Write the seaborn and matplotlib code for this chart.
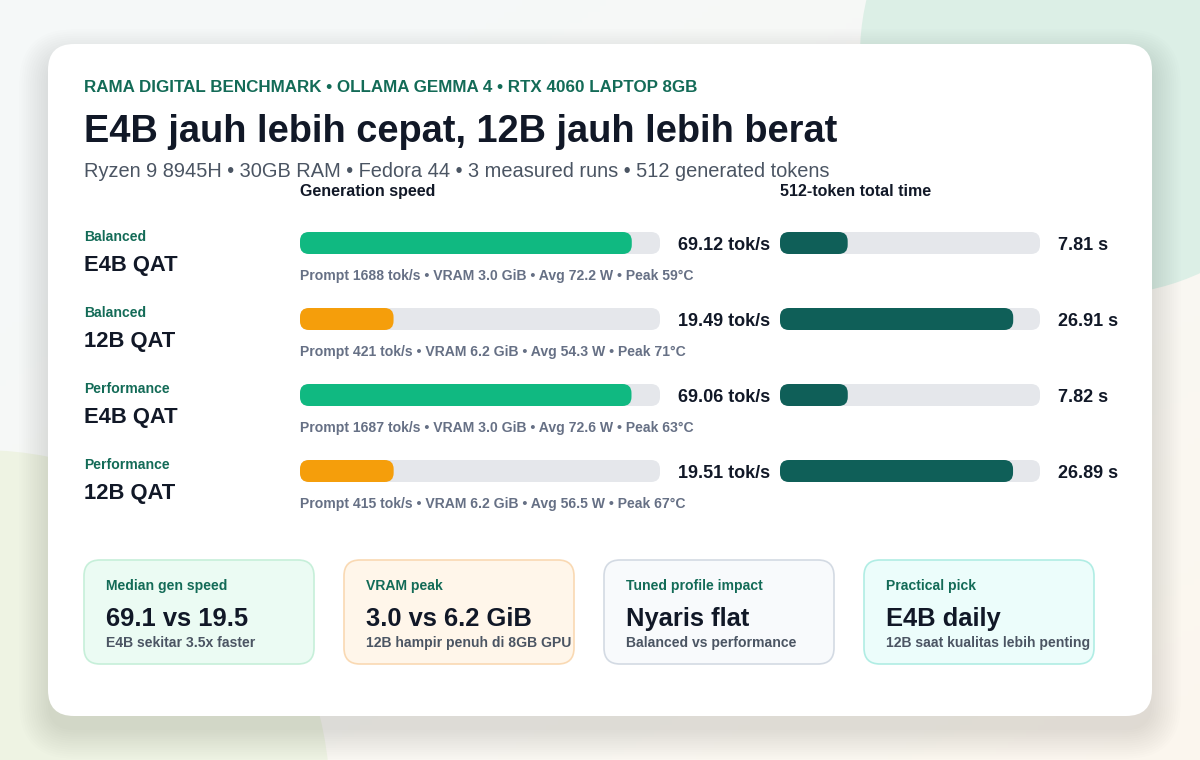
import numpy as np
import pandas as pd
import matplotlib
matplotlib.use("Agg")
import matplotlib.pyplot as plt
from matplotlib.patches import FancyBboxPatch, Circle
import seaborn as sns

profiles = ["Balanced", "Balanced", "Performance", "Performance"]
models = ["E4B QAT", "12B QAT", "E4B QAT", "12B QAT"]
gen_speed = [69.12, 19.49, 69.06, 19.51]      # tok/s
total_time = [7.81, 26.91, 7.82, 26.89]       # s for 512 tokens
prompt_speed = [1688, 421, 1687, 415]
vram_gib = [3.0, 6.2, 3.0, 6.2]
avg_watt = [72.2, 54.3, 72.6, 56.5]
peak_temp = [59, 71, 63, 67]

card_titles = ["Median gen speed", "VRAM peak", "Tuned profile impact", "Practical pick"]
card_values = ["69.1 vs 19.5", "3.0 vs 6.2 GiB", "Nyaris flat", "E4B daily"]
card_notes = ["E4B sekitar 3.5x faster", "12B hampir penuh di 8GB GPU",
              "Balanced vs performance", "12B saat kualitas lebih penting"]

SPEED_MAX = 75
TIME_MAX = 30

GREEN = "#10b981"
ORANGE = "#f59e0b"
TEAL = "#0f5f58"
TRACK = "#e5e7eb"
ACCENT = "#136b57"
DARK = "#111827"
NOTE = "#667085"

sns.set_theme(style="white")
plt.rcParams["font.family"] = ["Liberation Sans", "DejaVu Sans"]


def fs(px):
    # pixel size -> points at dpi 100
    return px * 0.72


W, H = 1200, 760
fig = plt.figure(figsize=(12, 7.6), dpi=100)

bg = fig.add_axes([0, 0, 1, 1])
bg.set_xlim(0, W)
bg.set_ylim(H, 0)
bg.axis("off")

# soft background gradient
gx = np.linspace(0, 1, 200)
gy = np.linspace(0, 1, 130)
XX, YY = np.meshgrid(gx, gy)
t = np.clip((XX * 0.6 + YY * 0.6) - 0.2, 0, 1)[..., None]
c0 = np.array([0.962, 0.974, 0.975])
c1 = np.array([0.988, 0.968, 0.935])
img = c0 * (1 - t) + c1 * t
bg.imshow(img, extent=[0, W, H, 0], aspect="auto", zorder=0)
bg.add_patch(Circle((1100, 55), 240, fc="#dcefe6", ec="none", zorder=0.5))
bg.add_patch(Circle((-20, 800), 350, fc="#eef3e3", ec="none", zorder=0.5))

# card shadow + card
for i in range(14):
    grow = i * 2.2
    bg.add_patch(FancyBboxPatch((48 - grow, 58 - grow), 1104 + 2 * grow, 672 + 2 * grow,
                                boxstyle="round,pad=0,rounding_size=%f" % (26 + grow),
                                fc="#55606a", ec="none", alpha=0.012, zorder=0.8))
bg.add_patch(FancyBboxPatch((48, 44), 1104, 672, boxstyle="round,pad=0,rounding_size=26",
                            fc="white", ec="none", zorder=1))

# header texts
bg.text(84, 92, "RAMA DIGITAL BENCHMARK • OLLAMA GEMMA 4 • RTX 4060 LAPTOP 8GB",
        fontsize=fs(17), fontweight="bold", color=ACCENT, va="baseline", zorder=3)
bg.text(84, 142, "E4B jauh lebih cepat, 12B jauh lebih berat",
        fontsize=fs(38), fontweight="bold", color=DARK, va="baseline", zorder=3)
bg.text(84, 177, "Ryzen 9 8945H • 30GB RAM • Fedora 44 • 3 measured runs • 512 generated tokens",
        fontsize=fs(20), color="#4b5563", va="baseline", zorder=3)
bg.text(300, 196, "Generation speed", fontsize=fs(16), fontweight="bold",
        color=DARK, va="baseline", zorder=3)
bg.text(780, 196, "512-token total time", fontsize=fs(16), fontweight="bold",
        color=DARK, va="baseline", zorder=3)

ROW0, STEP = 243, 76
for i, (p, m) in enumerate(zip(profiles, models)):
    cy = ROW0 + i * STEP
    bg.text(84, cy - 2, p, fontsize=fs(14), fontweight="bold", color=ACCENT,
            va="baseline", zorder=3)
    bg.text(84, cy + 28, m, fontsize=fs(22), fontweight="bold", color=DARK,
            va="baseline", zorder=3)

df = pd.DataFrame({
    "row": [f"{p} {m}" for p, m in zip(profiles, models)],
    "model": models,
    "speed": gen_speed,
    "time": total_time,
})

BAR_PX = 22
RAD_PX = 9


def bar_axes(left, width):
    top = ROW0 - STEP / 2
    bottom = ROW0 + 3.5 * STEP
    return fig.add_axes([left / W, 1 - bottom / H, width / W, (bottom - top) / H])


def round_bars(ax, xmax, width_px):
    pxu = width_px / xmax
    asp = pxu / STEP
    r = RAD_PX / pxu
    for k in range(len(df)):
        ax.add_patch(FancyBboxPatch((0, k - BAR_PX / STEP / 2), xmax, BAR_PX / STEP,
                                    boxstyle=f"round,pad=0,rounding_size={r}",
                                    mutation_aspect=asp, fc=TRACK, ec="none", zorder=1))
    for p in list(ax.patches):
        if isinstance(p, FancyBboxPatch):
            continue
        x0, y0, w, h = p.get_x(), p.get_y(), p.get_width(), p.get_height()
        col = p.get_facecolor()
        p.remove()
        ax.add_patch(FancyBboxPatch((x0, y0), w, h, boxstyle=f"round,pad=0,rounding_size={r}",
                                    mutation_aspect=asp, fc=col, ec="none", zorder=2))
    ax.set_xlim(0, xmax)
    ax.set_ylim(3.5, -0.5)
    ax.axis("off")


# generation speed bars
ax1 = bar_axes(300, 360)
sns.barplot(data=df, x="speed", y="row", hue="model", dodge=False, legend=False,
            palette={"E4B QAT": GREEN, "12B QAT": ORANGE}, width=BAR_PX / STEP,
            orient="h", ax=ax1, saturation=1)
round_bars(ax1, SPEED_MAX, 360)
for k, v in enumerate(gen_speed):
    ax1.text(SPEED_MAX + 18 / (360 / SPEED_MAX), k + 6.5 / STEP, f"{v:.2f} tok/s",
             fontsize=fs(18), fontweight="bold", color=DARK, va="baseline", clip_on=False)
    note = (f"Prompt {prompt_speed[k]} tok/s • VRAM {vram_gib[k]:.1f} GiB • "
            f"Avg {avg_watt[k]:.1f} W • Peak {peak_temp[k]}°C")
    ax1.text(0, k + 37 / STEP, note, fontsize=fs(14), fontweight="bold", color=NOTE,
             va="baseline", clip_on=False)

# total time bars
ax2 = bar_axes(780, 260)
sns.barplot(data=df, x="time", y="row", color=TEAL, width=BAR_PX / STEP,
            orient="h", ax=ax2, saturation=1)
round_bars(ax2, TIME_MAX, 260)
for k, v in enumerate(total_time):
    ax2.text(TIME_MAX + 18 / (260 / TIME_MAX), k + 6.5 / STEP, f"{v:.2f} s",
             fontsize=fs(18), fontweight="bold", color=DARK, va="baseline", clip_on=False)

# summary cards
card_fill = ["#ebfbf3", "#fff6ea", "#f8fafc", "#ecfdfb"]
card_edge = ["#c6efd9", "#f9d9b3", "#d3dae3", "#b0ede4"]
for j in range(4):
    x0 = 84 + j * 260
    bg.add_patch(FancyBboxPatch((x0, 560), 230, 104, boxstyle="round,pad=0,rounding_size=16",
                                fc=card_fill[j], ec=card_edge[j], lw=1.2, zorder=2))
    bg.text(x0 + 22, 590, card_titles[j], fontsize=fs(14), fontweight="bold",
            color=ACCENT, va="baseline", zorder=3)
    bg.text(x0 + 22, 626, card_values[j], fontsize=fs(25.5), fontweight="bold",
            color=DARK, va="baseline", zorder=3)
    bg.text(x0 + 22, 647, card_notes[j], fontsize=fs(14), fontweight="bold",
            color="#4b5563", va="baseline", zorder=3)

fig.savefig("out.png", dpi=100)
